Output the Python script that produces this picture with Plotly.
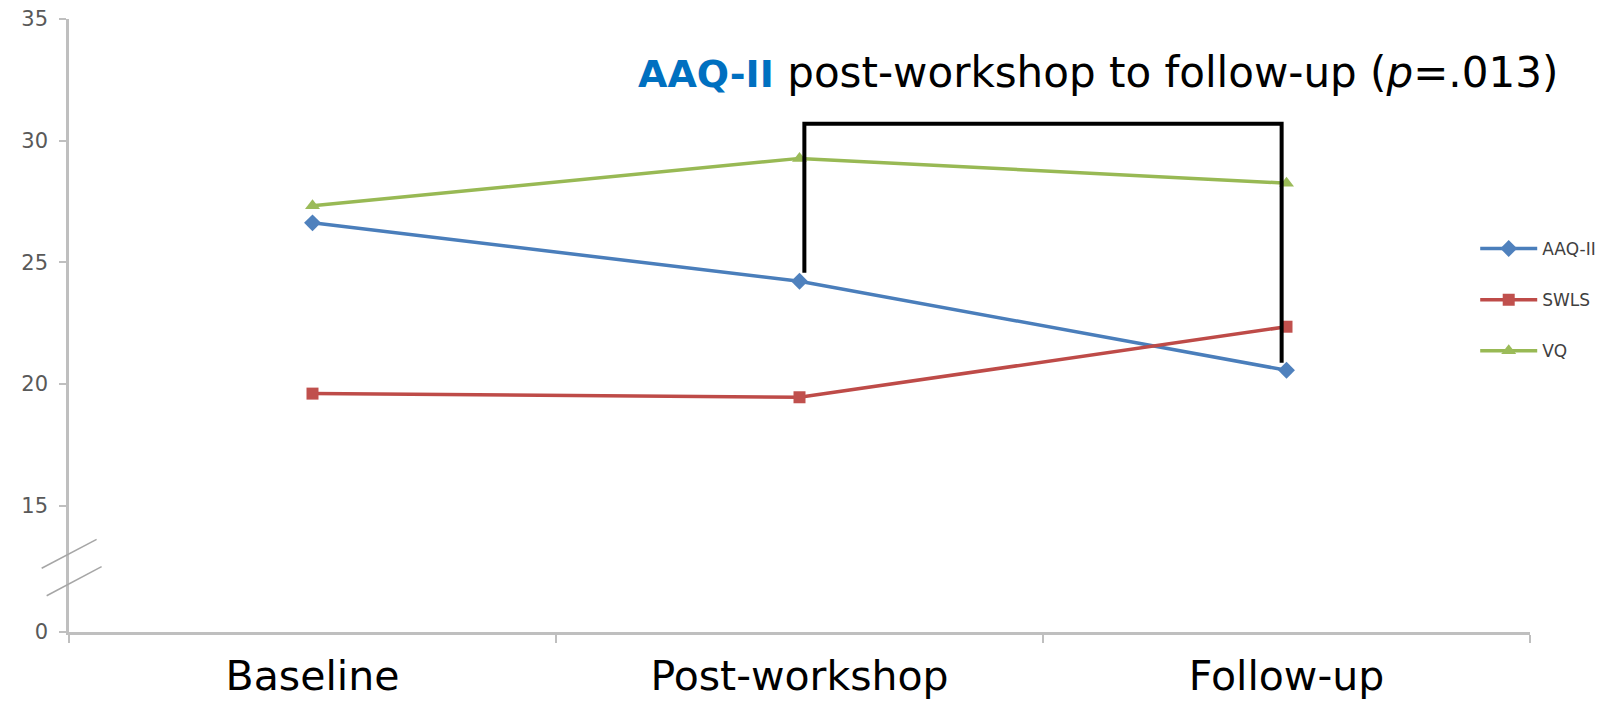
import plotly.graph_objects as go

# Measurement occasions and mean scale scores
occasions = ["Baseline", "Post-workshop", "Follow-up"]
aaq_ii = [26.62, 24.22, 20.56]
swls = [19.60, 19.45, 22.35]
vq = [27.32, 29.27, 28.25]

# Y axis: broken scale, bottom of the axis is labelled 0
y_tick_vals = [9.8, 15, 20, 25, 30, 35]
y_tick_text = ["0", "15", "20", "25", "30", "35"]

FONT = "DejaVu Sans"

fig = go.Figure()

series = [
    ("AAQ-II", aaq_ii, "#4A7EBB", "#4F81BD", "diamond", 13),
    ("SWLS", swls, "#BE4B48", "#C0504D", "square", 12),
    ("VQ", vq, "#98B954", "#9BBB59", "triangle-up", 13),
]
for name, vals, lc, mc, sym, msize in series:
    fig.add_trace(go.Scatter(
        x=occasions, y=vals, name=name, mode="lines+markers",
        line=dict(color=lc, width=3.5),
        marker=dict(symbol=sym, size=msize, color=mc, line=dict(width=0)),
        legendgroup=name,
    ))

# Significance bracket between post-workshop and follow-up
bracket_top = 30.69
fig.add_shape(type="path", xref="x", yref="y",
              path=f"M 1.01,24.57 L 1.01,{bracket_top} L 1.99,{bracket_top} L 1.99,20.87",
              line=dict(color="black", width=4))

fig.add_annotation(
    xref="paper", yref="paper", x=0.388, y=0.9127, xanchor="left", yanchor="middle",
    text="<b><span style='color:#0070C0;font-size:38px'>AAQ-II</span></b> "
         "post-workshop to follow-up (<i>p</i>=.013)",
    showarrow=False, font=dict(family=FONT, size=42, color="black"),
)

# Axis break marks
for (x0, y0, x1, y1) in [(-0.0187, 12.42, 0.0189, 13.61), (-0.0153, 11.29, 0.0223, 12.49)]:
    fig.add_shape(type="line", xref="paper", yref="y", x0=x0, y0=y0, x1=x1, y1=y1,
                  line=dict(color="#A6A6A6", width=1.5))

fig.update_layout(
    width=1624, height=702,
    margin=dict(l=69, r=94, t=19, b=70),
    paper_bgcolor="white", plot_bgcolor="white",
    showlegend=True,
    legend=dict(x=0.9625, y=0.5416, xanchor="left", yanchor="middle",
                font=dict(family=FONT, size=17, color="#404040"),
                tracegroupgap=26, traceorder="grouped", itemwidth=57,
                bgcolor="rgba(0,0,0,0)"),
)

fig.update_xaxes(
    type="category", range=[-0.5, 2.5], automargin=False,
    showline=True, linecolor="#BFBFBF", linewidth=2.5,
    showgrid=False, zeroline=False,
    ticks="outside", tickson="boundaries", ticklen=8, tickcolor="#BFBFBF", tickwidth=1.5,
    tickfont=dict(family=FONT, size=41, color="black"),
    ticklabelstandoff=6,
)
fig.update_yaxes(
    range=[9.8, 35], tickvals=y_tick_vals, ticktext=y_tick_text, automargin=False,
    showline=True, linecolor="#BFBFBF", linewidth=2.5,
    showgrid=False, zeroline=False,
    ticks="outside", ticklen=7, tickcolor="#BFBFBF", tickwidth=1.5,
    tickfont=dict(family=FONT, size=21, color="#595959"),
    ticklabelstandoff=7,
)

fig.write_html("out.html")
